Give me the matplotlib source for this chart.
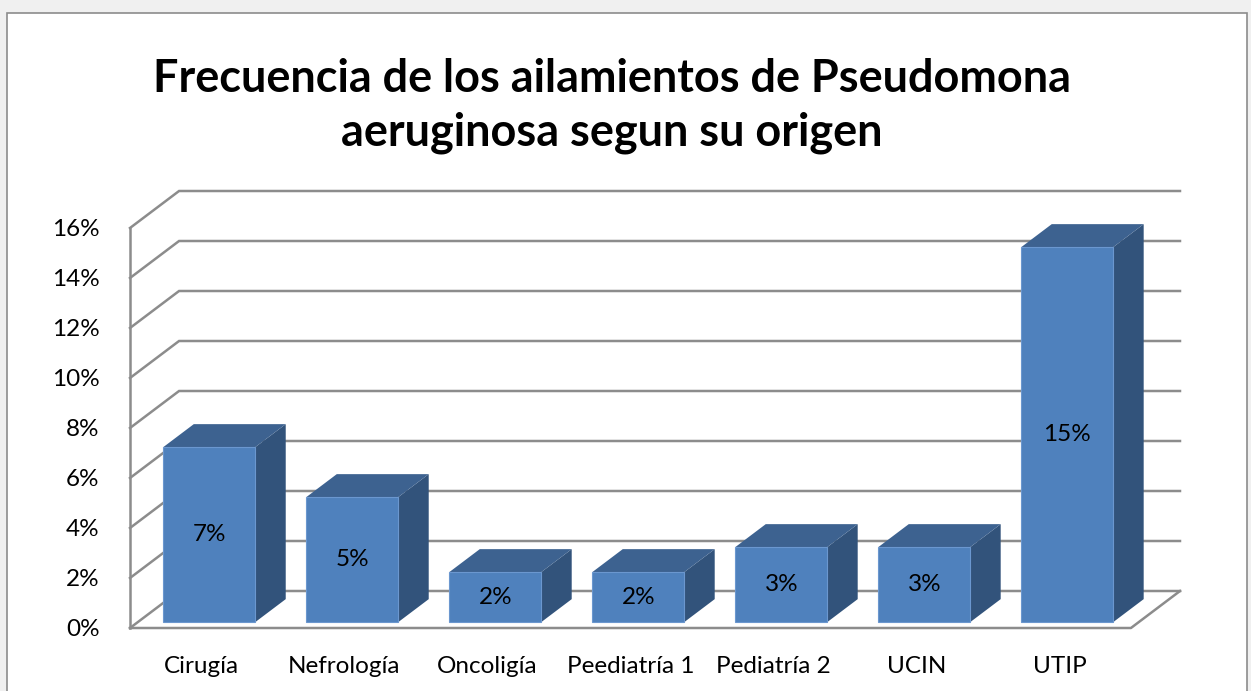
import matplotlib
matplotlib.use('Agg')
import matplotlib.pyplot as plt
from matplotlib.patches import Polygon, Rectangle

plt.rcParams['font.family'] = ['Lato', 'DejaVu Sans']

categories = ['Cirugía', 'Nefrología', 'Oncoligía', 'Peediatría 1', 'Pediatría 2', 'UCIN', 'UTIP']
values = [7, 5, 2, 2, 3, 3, 15]
yticks = [0, 2, 4, 6, 8, 10, 12, 14, 16]
title = 'Frecuencia de los ailamientos de Pseudomona\naeruginosa segun su origen'

# fake 3d: depth offset of the back wall, in data units
DX, DY = 0.343, 1.48
F_FRONT, F_BACK = 0.16, 0.78   # bar front/back as fraction of depth
BAR_W = 0.643

front_col = '#4f81bd'
top_col = '#3d6290'
side_col = '#32537b'
grid_col = '#8c8c8c'

fig = plt.figure(figsize=(12.51, 6.91), dpi=100)
fig.patch.set_facecolor('#f0f0f0')
fig.patches.append(Rectangle((7 / 1251, -0.05), 1240 / 1251, 1.05 - 13 / 691,
                             transform=fig.transFigure, facecolor='white',
                             edgecolor='#8c8c8c', lw=1.2, zorder=-5))

ax = fig.add_axes([130 / 1251, 63 / 691, 1050 / 1251, 437.5 / 691])
ax.set_xlim(0, len(categories) + DX)
ax.set_ylim(0, 17.5)
ax.patch.set_alpha(0)
for s in ax.spines.values():
    s.set_visible(False)

n = len(categories)
# walls and gridlines
for v in yticks:
    ax.plot([0, DX, n + DX], [v, v + DY, v + DY], color=grid_col, lw=1.8, zorder=1,
            solid_joinstyle='miter', clip_on=False)
ax.plot([0, 0], [0, yticks[-1]], color=grid_col, lw=1.8, zorder=1, clip_on=False)
ax.plot([0, n, n + DX], [0, 0, DY], color=grid_col, lw=1.8, zorder=1, clip_on=False)

# bars
for i, v in enumerate(values):
    x0 = i + 0.5 - BAR_W / 2 + F_FRONT * DX
    x1 = x0 + BAR_W
    y0 = F_FRONT * DY
    y1 = v + y0
    ddx = (F_BACK - F_FRONT) * DX
    ddy = (F_BACK - F_FRONT) * DY
    ax.add_patch(Polygon([(x1, y0), (x1 + ddx, y0 + ddy), (x1 + ddx, y1 + ddy), (x1, y1)],
                         closed=True, facecolor=side_col, edgecolor='none', zorder=3))
    ax.add_patch(Polygon([(x0, y1), (x1, y1), (x1 + ddx, y1 + ddy), (x0 + ddx, y1 + ddy)],
                         closed=True, facecolor=top_col, edgecolor='none', zorder=3))
    ax.add_patch(Rectangle((x0, y0), BAR_W, v, facecolor=front_col,
                           edgecolor='#6b97cf', lw=0.8, zorder=4))
    ax.text((x0 + x1) / 2, (y0 + y1) / 2, f'{v}%', ha='center', va='center',
            fontsize=17.5, color='black', zorder=5)

ax.set_yticks(yticks)
ax.set_yticklabels([f'{v}%' for v in yticks], fontsize=17.5)
ax.set_xticks([i + 0.5 for i in range(n)])
ax.set_xticklabels(categories, fontsize=17.5)
ax.tick_params(axis='y', length=0, pad=22)
ax.tick_params(axis='x', length=0, pad=20)

fig.text(612 / 1251, 1 - 106 / 691, title, ha='center', va='center',
         fontsize=32.4, fontweight='bold', linespacing=1.33)

fig.savefig('out.png', dpi=100, facecolor=fig.get_facecolor())
